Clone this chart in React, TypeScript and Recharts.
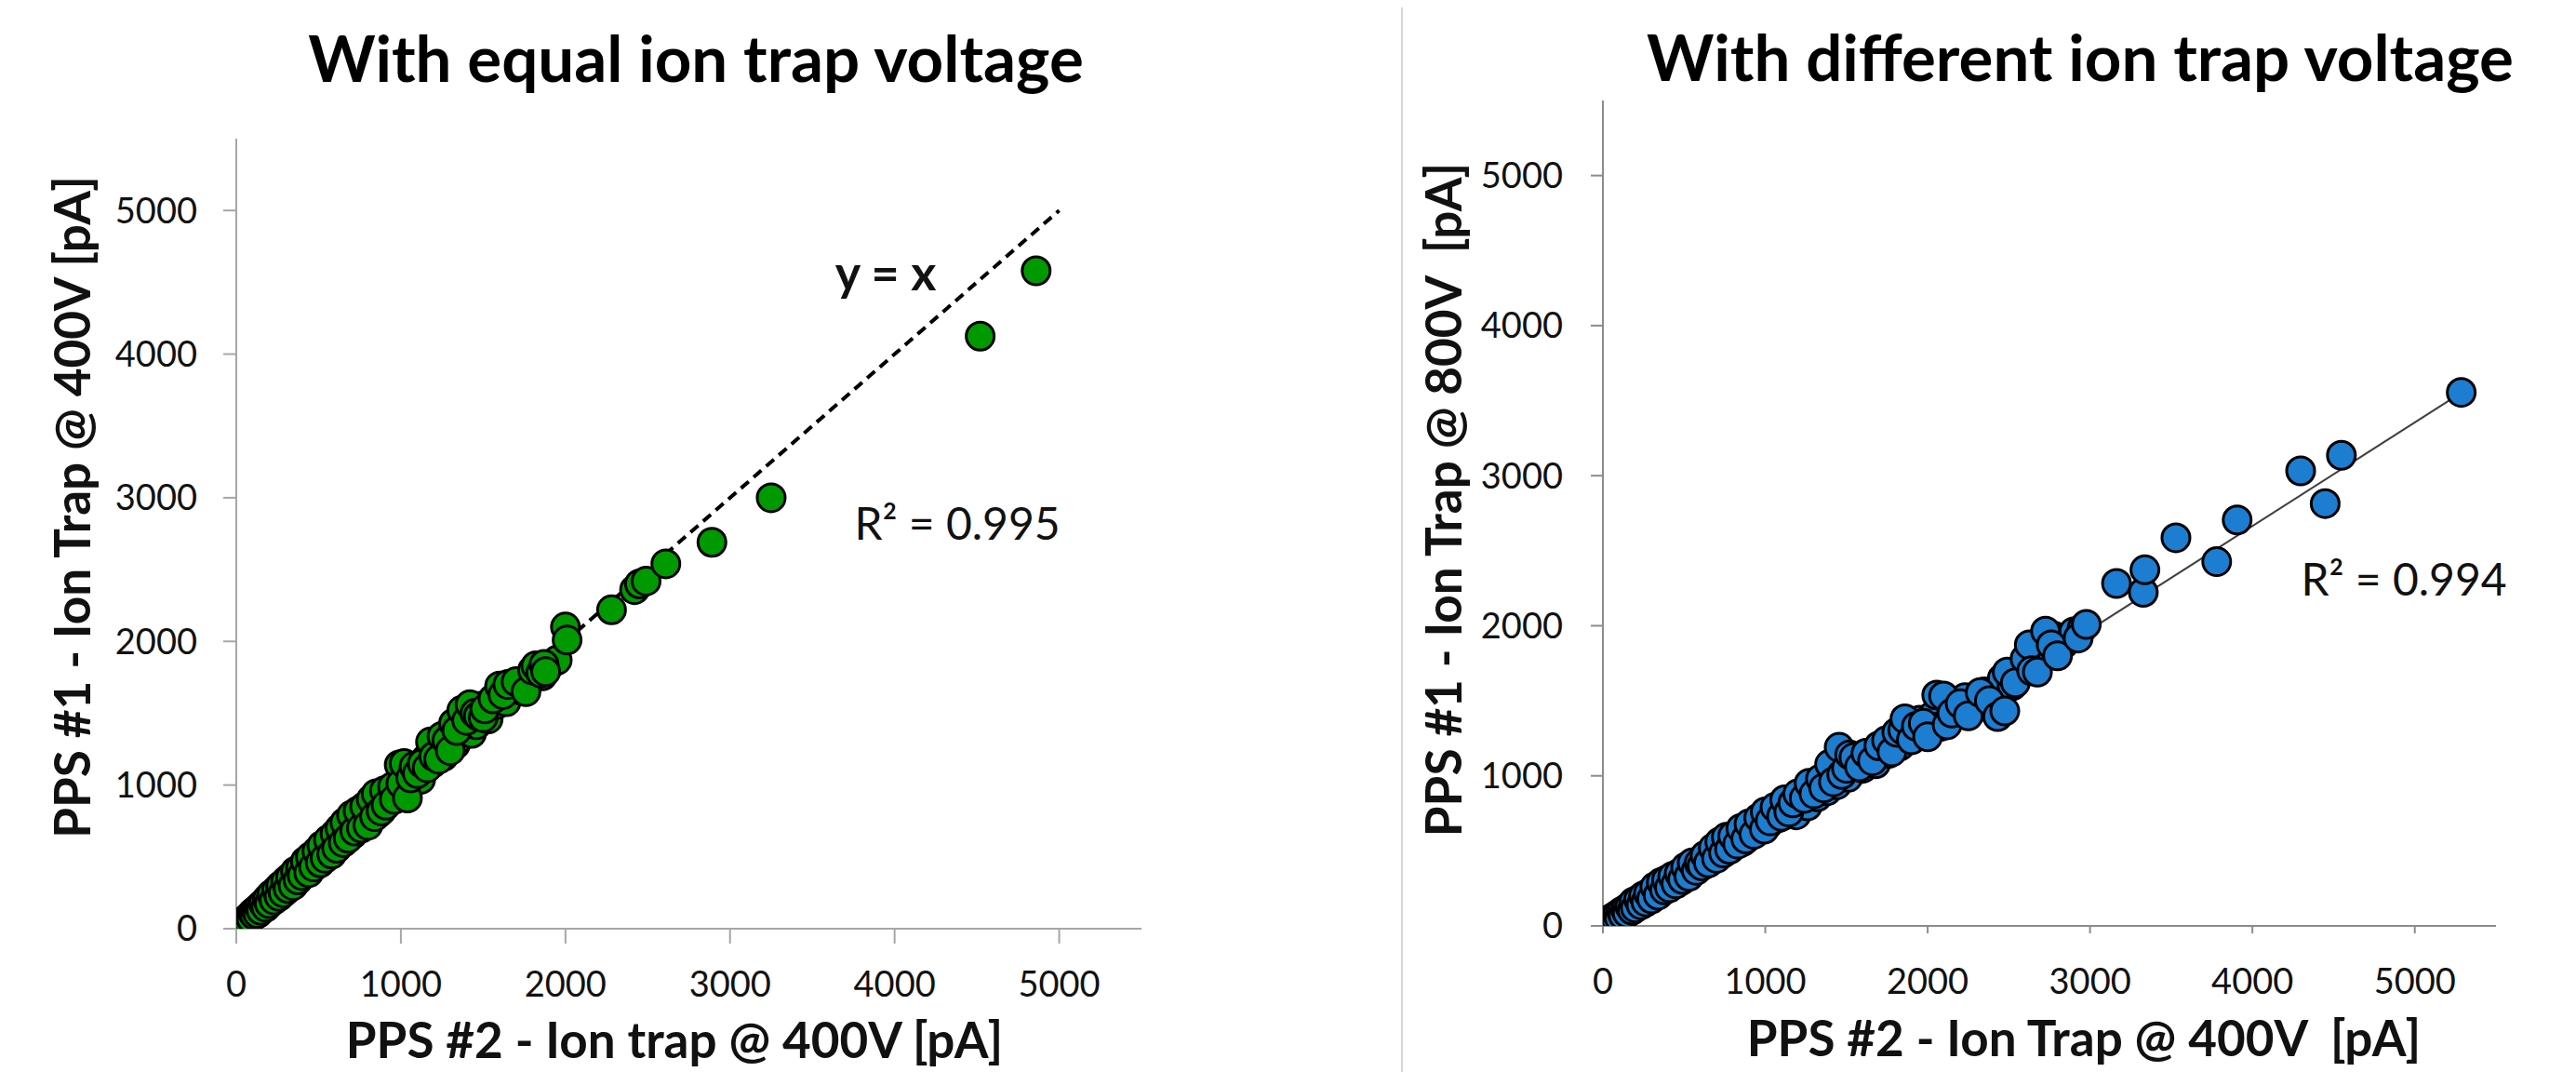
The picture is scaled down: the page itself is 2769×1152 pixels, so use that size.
import React from 'react';
import { ScatterChart, Scatter, XAxis, YAxis } from 'recharts';

// ---------- data ----------
const axisTicks = [0, 1000, 2000, 3000, 4000, 5000];
const axisMax = 5500;

// Left panel: equal ion trap voltage (x = PPS #2 @400V, y = PPS #1 @400V)
const equalX = [0, 5, 10, 15, 20, 25, 30, 40, 45, 50, 60, 70, 80, 90, 100, 110, 120, 130, 140, 150, 165, 180, 190, 200, 215, 230, 245, 260, 270, 285, 300, 315, 330, 345, 360, 375, 390, 400, 420, 440, 450, 470, 490, 510, 520, 540, 560, 580, 600, 610, 630, 650, 660, 680, 700, 720, 740, 760, 780, 800, 820, 840, 850, 880, 900, 910, 950, 960, 990, 1000, 1020, 1040, 1060, 1080, 1100, 1130, 1160, 1180, 1200, 1230, 1250, 1280, 1300, 1320, 1340, 1370, 1400, 1420, 1450, 1470, 1500, 1510, 1560, 1600, 1620, 1650, 1700, 1760, 1800, 1820, 1850, 1870, 1880, 2000, 2010, 2280, 2420, 2450, 2490, 2610, 2890, 3250, 4520, 4860];
const equalY = [0, 8, 5, 20, 12, 30, 22, 35, 50, 38, 62, 55, 85, 70, 110, 95, 130, 105, 150, 128, 175, 150, 210, 175, 240, 200, 270, 225, 300, 250, 330, 280, 360, 300, 400, 340, 420, 370, 470, 390, 500, 430, 540, 460, 580, 490, 620, 520, 660, 560, 700, 600, 740, 630, 790, 680, 820, 700, 850, 720, 900, 780, 940, 820, 960, 860, 990, 900, 1140, 1010, 1150, 910, 1050, 1130, 1080, 1150, 1120, 1300, 1200, 1180, 1340, 1310, 1240, 1430, 1380, 1520, 1450, 1560, 1500, 1480, 1470, 1530, 1600, 1690, 1630, 1700, 1720, 1650, 1800, 1830, 1780, 1840, 1790, 2100, 2010, 2220, 2360, 2400, 2420, 2540, 2690, 3000, 4125, 4580];
const equalX2 = [35, 65, 95, 125, 155, 185, 205, 225, 255, 275, 295, 320, 350, 380, 410, 430, 460, 480, 500, 530, 550, 570, 590, 620, 640, 670, 690, 710, 730, 750, 770, 790, 810, 830, 860, 870, 890, 920, 940, 970, 1010, 1050, 1090, 1120, 1150, 1190, 1220, 1260, 1290, 1330, 1360, 1390, 1430, 1460, 1490, 1530, 1580, 1640, 1680, 1730, 1780, 1830, 1860, 1900, 1950];
const equalY2 = [30, 70, 90, 120, 165, 170, 215, 205, 245, 275, 300, 350, 340, 400, 395, 450, 440, 500, 470, 510, 560, 540, 610, 600, 650, 640, 700, 660, 740, 720, 780, 760, 800, 840, 800, 900, 850, 880, 930, 920, 980, 1000, 1060, 1040, 1180, 1150, 1250, 1200, 1290, 1280, 1330, 1400, 1360, 1420, 1550, 1460, 1560, 1580, 1680, 1660, 1720, 1780, 1760, 1830, 1870];

// Identity reference line y = x
const identityX = [0, 5000];
const identityY = [0, 5000];

// Right panel: different ion trap voltage (x = PPS #2 @400V, y = PPS #1 @800V)
const diffX = [0, 8, 15, 20, 30, 35, 45, 55, 60, 70, 80, 90, 100, 115, 125, 140, 150, 165, 180, 190, 200, 220, 235, 250, 265, 280, 300, 320, 340, 360, 380, 392, 410, 430, 450, 470, 490, 510, 530, 550, 575, 592, 610, 630, 650, 680, 700, 720, 743, 760, 780, 800, 830, 850, 880, 900, 930, 960, 994, 1000, 1030, 1060, 1100, 1120, 1145, 1170, 1200, 1240, 1270, 1300, 1340, 1360, 1396, 1420, 1455, 1471, 1500, 1520, 1546, 1580, 1620, 1660, 1700, 1747, 1780, 1810, 1847, 1860, 1900, 1930, 1973, 2000, 2056, 2098, 2120, 2149, 2200, 2250, 2324, 2380, 2431, 2475, 2490, 2540, 2600, 2626, 2640, 2676, 2726, 2761, 2800, 2927, 2977, 3163, 3328, 3338, 3529, 3780, 3906, 4297, 4448, 4548, 5286];
const diffY = [0, 12, 5, 25, 15, 40, 28, 50, 35, 60, 45, 75, 55, 95, 70, 110, 85, 130, 105, 160, 120, 175, 140, 200, 160, 215, 180, 260, 205, 290, 240, 305, 255, 330, 280, 350, 310, 390, 330, 420, 370, 418, 400, 470, 420, 520, 450, 560, 486, 590, 510, 600, 545, 650, 580, 680, 610, 720, 645, 760, 700, 790, 730, 840, 759, 820, 880, 850, 950, 880, 980, 920, 1077, 960, 1190, 1009, 1050, 1140, 1123, 1060, 1150, 1100, 1200, 1236, 1160, 1290, 1305, 1380, 1240, 1330, 1350, 1260, 1538, 1532, 1340, 1418, 1480, 1400, 1555, 1500, 1395, 1432, 1691, 1620, 1780, 1873, 1700, 1691, 1964, 1873, 1800, 1918, 2009, 2282, 2223, 2373, 2586, 2427, 2705, 3032, 2814, 3136, 3555];
const diffX2 = [25, 50, 75, 105, 130, 160, 210, 240, 270, 310, 350, 400, 440, 480, 520, 560, 600, 640, 670, 710, 750, 790, 820, 860, 890, 920, 950, 980, 1020, 1050, 1080, 1110, 1160, 1190, 1220, 1260, 1290, 1320, 1350, 1380, 1410, 1440, 1480, 1510, 1560, 1600, 1640, 1680, 1720, 1760, 1800, 1830, 1880, 1920, 1950, 1990, 2030, 2080, 2170, 2230, 2280, 2350, 2410, 2460, 2520, 2580, 2660, 2700, 2740, 2780, 2840, 2900, 2950];
const diffY2 = [30, 22, 55, 80, 100, 95, 160, 150, 190, 200, 250, 290, 320, 300, 370, 380, 430, 450, 470, 480, 540, 520, 580, 560, 620, 650, 630, 690, 680, 740, 720, 770, 800, 740, 860, 800, 900, 860, 950, 900, 1000, 940, 1020, 990, 1080, 1050, 1120, 1080, 1180, 1150, 1250, 1200, 1300, 1260, 1370, 1290, 1400, 1330, 1460, 1520, 1440, 1560, 1460, 1650, 1600, 1720, 1760, 1850, 1800, 1930, 1880, 1960, 1980];

// Linear trend line for right panel
const trendX = [140, 5290];
const trendY = [0, 3555];

// ---------- helpers ----------
const toPoints = (xs: number[], ys: number[]) => xs.map((x, i) => ({ x, y: ys[i] }));
const equalData = [...toPoints(equalX2, equalY2), ...toPoints(equalX, equalY)];
const identityData = toPoints(identityX, identityY);
const diffData = [...toPoints(diffX2, diffY2), ...toPoints(diffX, diffY)];
const trendData = toPoints(trendX, trendY);

const FONT = 'Lato, "Open Sans", sans-serif';

const makeDot = (fill: string) => (props: any) => (
  <circle cx={props.cx} cy={props.cy} r={15} fill={fill} stroke="#000" strokeWidth={3} />
);
const NoDot = () => <g />;

const tickStyle = { fontSize: 38, fill: '#111', fontFamily: FONT };

export default function App() {
  return (
    <div
      style={{
        position: 'fixed',
        left: 0,
        top: 0,
        width: 2769,
        height: 1152,
        background: '#fff',
        overflow: 'hidden',
        fontFamily: FONT,
      }}
    >
      {/* Left panel */}
      <div style={{ position: 'absolute', left: 0, top: 0 }}>
        <ScatterChart width={1400} height={1152} margin={{ top: 149, right: 173, bottom: 94, left: 154 }}>
          <XAxis
            type="number"
            dataKey="x"
            domain={[0, axisMax]}
            ticks={axisTicks}
            height={60}
            tickSize={16}
            tickMargin={30}
            stroke="#a6a6a6"
            strokeWidth={2}
            tick={tickStyle}
            allowDataOverflow
          />
          <YAxis
            type="number"
            dataKey="y"
            domain={[0, axisMax]}
            ticks={axisTicks}
            width={100}
            tickSize={14}
            tickMargin={28}
            stroke="#a6a6a6"
            strokeWidth={2}
            tick={tickStyle}
            allowDataOverflow
          />
          <Scatter
            data={identityData}
            isAnimationActive={false}
            shape={NoDot}
            line={{ stroke: '#000', strokeWidth: 4, strokeDasharray: '11 7' }}
            legendType="none"
          />
          <Scatter data={equalData} isAnimationActive={false} shape={makeDot('#009a00')} />
        </ScatterChart>
      </div>

      {/* Right panel */}
      <div style={{ position: 'absolute', left: 1400, top: 0 }}>
        <ScatterChart width={1369} height={1152} margin={{ top: 108, right: 86, bottom: 97, left: 223 }}>
          <XAxis
            type="number"
            dataKey="x"
            domain={[0, axisMax]}
            ticks={axisTicks}
            height={60}
            tickSize={8}
            tickMargin={38}
            stroke="#8c8c8c"
            strokeWidth={2}
            tick={tickStyle}
            allowDataOverflow
          />
          <YAxis
            type="number"
            dataKey="y"
            domain={[0, axisMax]}
            ticks={axisTicks}
            width={100}
            tickSize={13}
            tickMargin={30}
            stroke="#8c8c8c"
            strokeWidth={2}
            tick={tickStyle}
            allowDataOverflow
          />
          <Scatter
            data={trendData}
            isAnimationActive={false}
            shape={NoDot}
            line={{ stroke: '#404040', strokeWidth: 2 }}
            legendType="none"
          />
          <Scatter data={diffData} isAnimationActive={false} shape={makeDot('#1d7dd0')} />
        </ScatterChart>
      </div>

      {/* Text overlay */}
      <svg
        width={2769}
        height={1152}
        style={{ position: 'absolute', left: 0, top: 0, pointerEvents: 'none' }}
        fontFamily={FONT}
      >
        <line x1={1507} y1={8} x2={1507} y2={1152} stroke="#d6d6d6" strokeWidth={2} />

        <text x={748} y={88} textAnchor="middle" fontSize={69} fontWeight={700} fill="#000">
          With equal ion trap voltage
        </text>
        <text x={2236} y={87} textAnchor="middle" fontSize={69} fontWeight={700} fill="#000">
          With different ion trap voltage
        </text>

        <text x={725} y={1137} textAnchor="middle" fontSize={53} fontWeight={700} fill="#111">
          PPS #2 - Ion trap @ 400V [pA]
        </text>
        <text x={2240} y={1135} textAnchor="middle" fontSize={53} fontWeight={700} fill="#111" style={{ whiteSpace: 'pre' }}>
          {'PPS #2 - Ion Trap @ 400V  [pA]'}
        </text>

        <text
          x={0}
          y={0}
          transform="translate(78,545) rotate(-90)"
          textAnchor="middle"
          dy="0.36em"
          fontSize={53}
          fontWeight={700}
          fill="#111"
        >
          PPS #1 - Ion Trap @ 400V [pA]
        </text>
        <text
          x={0}
          y={0}
          transform="translate(1552,537) rotate(-90)"
          textAnchor="middle"
          dy="0.36em"
          fontSize={53}
          fontWeight={700}
          fill="#111"
          style={{ whiteSpace: 'pre' }}
        >
          {'PPS #1 - Ion Trap @ 800V  [pA]'}
        </text>

        <text x={952} y={312} textAnchor="middle" fontSize={52} fontWeight={700} fill="#111">
          y = x
        </text>
        <text x={1029} y={580} textAnchor="middle" fontSize={48} fill="#111">
          R² = 0.995
        </text>
        <text x={2584} y={640} textAnchor="middle" fontSize={48} fill="#111">
          R² = 0.994
        </text>
      </svg>
    </div>
  );
}
